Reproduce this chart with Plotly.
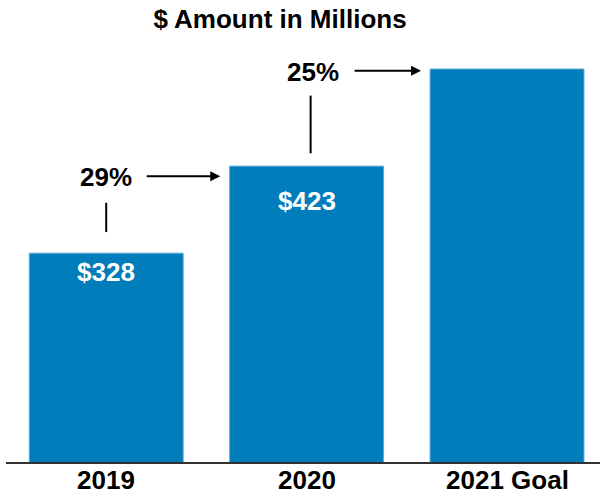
import plotly.graph_objects as go

# ---- data ----
categories = ["2019", "2020", "2021 Goal"]
amounts = [328, 423, 529]
bar_labels = ["$328", "$423", ""]
growth_labels = ["29%", "25%"]

BLUE = "#007DBA"
FONT = "Liberation Sans, Arial, sans-serif"

W, H = 600, 495

fig = go.Figure()
fig.add_trace(go.Bar(
    x=list(range(len(categories))),
    y=amounts,
    width=0.768,
    marker=dict(color=BLUE, line=dict(color="#5AAAD8", width=1)),
    hoverinfo="skip",
    showlegend=False,
))

annotations = []
# value labels inside bars (pixel offsets below bar top)
label_shift = [-19, -35, 0]
for i, (v, t) in enumerate(zip(amounts, bar_labels)):
    if t:
        annotations.append(dict(
            x=i, y=v, xref="x", yref="y", text=t, showarrow=False,
            yanchor="middle", yshift=label_shift[i],
            font=dict(family=FONT, size=26, color="white", weight="bold"),
        ))

# category labels under the axis
for i, c in enumerate(categories):
    annotations.append(dict(
        x=i, y=0, xref="x", yref="paper", text=c, showarrow=False,
        yanchor="middle", yshift=-18,
        font=dict(family=FONT, size=26, color="black", weight="bold"),
    ))

# growth labels, arrows and connector lines
growth_pos = [dict(x=0.0, y=411, ax=0.195, hx=0.569, ay=412, lx=0.0, ly0=351, ly1=383),
              dict(x=1.03, y=526, ax=1.232, hx=1.571, ay=527, lx=1.02, ly0=437, ly1=500)]
shapes = []
for g, p in zip(growth_labels, growth_pos):
    annotations.append(dict(
        x=p["x"], y=p["y"], xref="x", yref="y", text=g, showarrow=False,
        font=dict(family=FONT, size=26, color="black", weight="bold"),
    ))
    annotations.append(dict(
        x=p["hx"], y=p["ay"], ax=p["ax"], ay=p["ay"], xref="x", yref="y",
        axref="x", ayref="y", text="", showarrow=True,
        arrowhead=2, arrowsize=1, arrowwidth=2, arrowcolor="black",
    ))
    shapes.append(dict(type="line", xref="x", yref="y",
                       x0=p["lx"], x1=p["lx"], y0=p["ly0"], y1=p["ly1"],
                       line=dict(color="black", width=2)))

fig.update_layout(
    width=W, height=H,
    margin=dict(l=6, r=0, t=4, b=33, pad=0),
    paper_bgcolor="white", plot_bgcolor="white",
    title=dict(text="$ Amount in Millions", x=280 / W, xref="container", xanchor="center",
               y=1 - 19 / H, yanchor="middle",
               font=dict(family=FONT, size=26, color="black", weight="bold")),
    xaxis=dict(
        tickmode="array", tickvals=list(range(len(categories))), ticktext=categories,
        range=[-0.5, 2.464], showgrid=False, zeroline=False,
        showline=True, linecolor="#333333", linewidth=2, ticks="",
        showticklabels=False,
    ),
    yaxis=dict(range=[100, 600], visible=False, showgrid=False, zeroline=False),
    annotations=annotations,
    shapes=shapes,
    bargap=0.2,
    hovermode=False,
)

fig.write_html("out.html", config={"displayModeBar": False},
               post_script="document.body.style.margin='0px';")
